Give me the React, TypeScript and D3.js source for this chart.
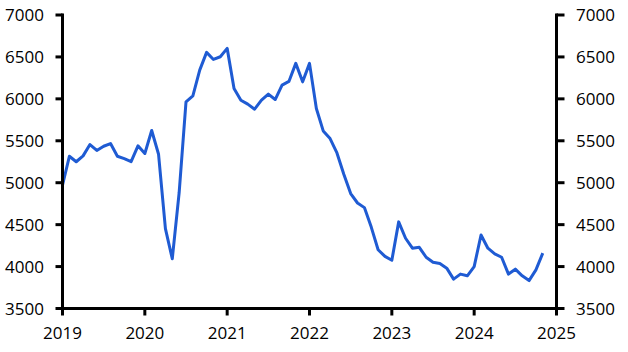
import React from "react";
import * as d3 from "d3";

const startYear = 2019;
const values: number[] = [
  // 2019
  4970, 5315, 5250, 5320, 5455, 5385, 5435, 5467, 5315, 5288, 5252, 5440,
  // 2020
  5348, 5623, 5339, 4452, 4093, 4880, 5964, 6036, 6343, 6554, 6470, 6502,
  // 2021
  6602, 6124, 5984, 5937, 5877, 5984, 6056, 5992, 6164, 6208, 6423, 6203,
  // 2022
  6423, 5885, 5618, 5527, 5355, 5100, 4870, 4758, 4703, 4471, 4201, 4121,
  // 2023
  4075, 4533, 4338, 4219, 4230, 4111, 4052, 4036, 3981, 3850, 3910, 3890,
  // 2024
  4000, 4377, 4219, 4151, 4111, 3910, 3969, 3890, 3833, 3961, 4160,
];
const yTicks = [3500, 4000, 4500, 5000, 5500, 6000, 6500, 7000];
const xTicks = [2019, 2020, 2021, 2022, 2023, 2024, 2025];

const W = 628;
const H = 352;
const left = 62.5;
const right = 556.5;
const top = 15;
const bottom = 308.5;
const FONT = "'Open Sans', sans-serif";
const color = "#1f5bd3";

export default function App() {
  const x = d3.scaleLinear().domain([2019, 2025]).range([left, right]);
  const y = d3.scaleLinear().domain([3500, 7000]).range([bottom, top]);
  const pts: [number, number][] = values.map((v, i) => [startYear + i / 12, v]);
  const line = d3
    .line<[number, number]>()
    .x((d) => x(d[0]))
    .y((d) => y(d[1]));

  return (
    <svg
      width={W}
      height={H}
      style={{ position: "absolute", left: 0, top: 0, background: "#fff" }}
      fontFamily={FONT}
      fontSize={17}
    >
      <path d={line(pts) || ""} fill="none" stroke={color} strokeWidth={3} strokeLinejoin="round" />
      {/* axes */}
      <line x1={left} x2={left} y1={top - 1.5} y2={bottom + 1.5} stroke="#000" strokeWidth={3} />
      <line x1={right} x2={right} y1={top - 1.5} y2={bottom + 1.5} stroke="#000" strokeWidth={3} />
      <line x1={left} x2={right} y1={bottom} y2={bottom} stroke="#000" strokeWidth={3} />
      {yTicks.map((t) => (
        <g key={t}>
          <line x1={left - 7} x2={left} y1={y(t)} y2={y(t)} stroke="#000" strokeWidth={3} />
          <line x1={right} x2={right + 8} y1={y(t)} y2={y(t)} stroke="#000" strokeWidth={3} />
          <text x={44} y={y(t)} dy="0.36em" textAnchor="end" fill="#000">
            {t}
          </text>
          <text x={576} y={y(t)} dy="0.36em" textAnchor="start" fill="#000">
            {t}
          </text>
        </g>
      ))}
      {xTicks.map((t) => (
        <g key={t}>
          <line x1={x(t)} x2={x(t)} y1={bottom} y2={bottom + 7} stroke="#000" strokeWidth={3} />
          <text x={x(t)} y={339} textAnchor="middle" fill="#000">
            {t}
          </text>
        </g>
      ))}
    </svg>
  );
}
